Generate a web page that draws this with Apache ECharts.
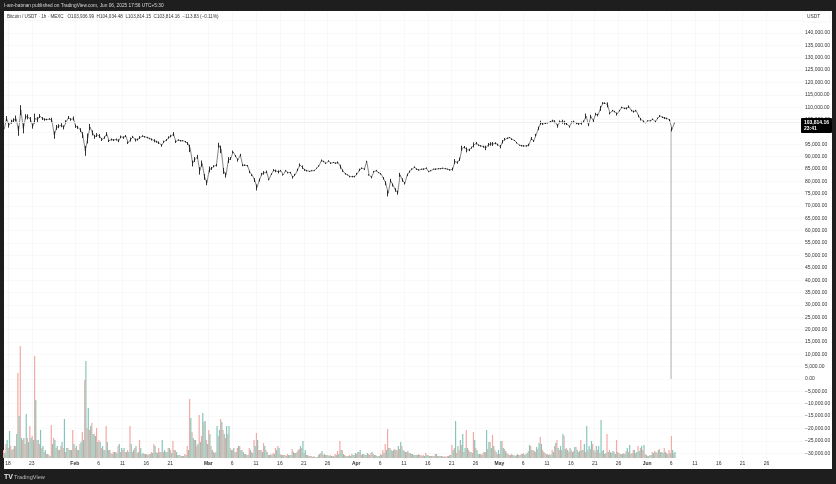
<!DOCTYPE html>
<html>
<head>
<meta charset="utf-8">
<style>html,body{margin:0;padding:0;background:#1e1e1e}#chart{width:836px;height:484px}</style>
<script src="https://cdn.jsdelivr.net/npm/echarts@6/dist/echarts.min.js"></script>
</head>
<body>
<div id="chart"></div>
<script>
// half-day samples, first one is about Jan 17 05:00
const firstDay = -0.8;
const stepDays = 0.5;

// price in thousand USDT
const priceK = [
  101,105.4,102.7,104.1,104.7,105.4,100.4,108.8,101.4,106.1,106.1,105,102.3,105.4,105,106.4,105.4,105,105,105.2,
  104.7,98.7,101.8,102.3,102.7,101.8,104.1,105.8,105,105.4,102.3,101.8,100.7,98.7,92.3,97.3,102,99.6,98,98.7,
  98.3,96.9,97.7,99.1,96.4,96.9,96.7,96.9,96.4,98,97.7,98.3,95.6,96.9,98,96.7,96.9,97.7,98.3,98,
  97.7,97.3,96.9,96.4,96,95.6,94.5,96,96.7,97.7,98.3,99.1,96,96.7,96.4,96.4,96,95.3,93.3,87.2,
  88.8,89.9,84.2,87.2,81.8,79.4,84.8,85.2,86.1,86.5,94.6,92.9,84.2,82.5,88.6,89.2,91.9,90.2,88.6,90.6,
  86.5,86.5,86.3,83.8,82.5,80.5,77.5,80.5,82.9,83.4,83.8,80.7,82.9,84.5,84.2,83.8,
  84.3,82.6,84.3,83.5,83.5,81.6,82.6,84.6,86.6,85.7,84.6,84.3,84,84.3,84.3,85.3,86.2,88.4,88,87.3,
  88.2,87.3,87.6,87.3,87.6,85.9,84.3,83,82.6,81.9,81.9,81.9,83,84.6,85.3,84.9,88,82.6,81.6,83.9,
  84.3,83.5,83,81.2,79.2,75.1,80.3,78.5,76.5,75.4,82.6,80.5,79.2,82.6,83.9,84.9,85.7,84.9,84.6,84.9,
  84.9,85.3,83.9,84.3,84.9,84.9,85.1,85.1,85.3,85.1,84.9,84.6,84.9,88,87.6,88.9,93.4,93.8,92.7,92.7,
  93.6,94.7,95.4,94.6,94.3,94,93.5,94.8,95.1,95.1,95.4,94.8,94,96,97,97.4,97.7,97,96.5,95.6,
  94.6,94.4,94.3,94.3,94.7,97.3,96.3,98.7,101.4,103.7,103.2,103.5,103.7,104.1,104.5,104.1,102.4,
  104.1,104.1,103.7,103.2,102.1,103.9,104,103.5,103.2,103.5,104.1,106.4,102.8,106.2,104.5,107.2,106.8,109.5,111.6,111.6,
  110.9,107.5,108.6,108.2,107.2,108.6,109.9,109.5,109.5,110.2,108.6,108.2,108.6,106.4,105.1,104.1,103.7,104.5,104.5,105.1,
  104.1,105.5,106.4,105.9,105.6,105.4,104.8,101,103.7
];

// half of the high-low range around each sample, thousand USDT
const priceRangeK = [
  .8,1,1,.8,.8,1.2,2,2,2,1,1,1,1,2,1,.8,.6,.5,.3,.3,
  1,1.5,1,.8,.8,.8,.6,.6,.5,.8,.7,.6,.8,1.2,2,2,1.2,1,.8,.8,
  .8,.6,.5,.8,.5,.4,.4,.4,.6,.5,.5,.4,.5,.8,.4,.6,.4,.6,.3,.3,
  .3,.3,.4,.6,.4,.5,.5,.4,.4,.5,.5,.8,.5,.3,.3,.2,.3,.6,1.5,1.2,
  1,.8,1.5,1.2,1.2,1,1.2,.6,.4,.5,1,1.5,1.2,1,1.2,.6,.5,.4,.6,.5,
  .4,.3,.3,.5,.4,.8,1.2,.6,.5,.7,.5,.3,.3,.4,.5,.6,
  .3,.3,.3,.3,.3,.5,.4,.5,.6,.7,.4,.3,.2,.2,.2,.2,.3,.4,.3,.3,
  .3,.3,.2,.3,.4,.8,.5,.3,.2,.3,.3,.3,.4,.5,.3,.3,.3,.3,.4,.3,
  .3,.2,.3,.5,.8,1.2,.7,.6,.7,.8,.8,.7,.5,.5,.4,.3,.3,.3,.3,.2,
  .3,.3,.2,.2,.2,.3,.2,.2,.2,.2,.2,.3,.6,1,.5,.7,1,.5,1,.5,
  .4,1,.5,.3,.3,.4,.9,.7,.7,.8,.4,.4,.7,.7,.5,.3,.2,.3,.2,.3,
  .2,.3,.3,.3,.5,.6,.4,.5,.7,.8,.4,.3,.3,.3,.4,.6,.7,
  .5,.8,.8,.4,.4,.4,.5,.4,.4,.6,.5,1,.5,.7,.5,.5,.5,1,.4,.3,
  1,.4,.3,.3,.6,.3,.3,.3,.4,.5,.3,.4,.3,.5,.5,.5,.2,.2,.2,.3,.4,.3,.4,.3,.4,.3,.4,.8,.3
];

// volume, relative height (the scale is hidden in the reference)
const volumeDown = [
  8,14,10,12,9,12,85,112,18,14,20,32,22,102,18,14,10,6,4,3,
  33,20,10,8,12,10,6,10,8,28,10,8,14,26,78,30,28,35,24,30,
  18,10,8,32,8,5,6,6,12,6,8,6,8,32,6,10,5,18,4,4,
  4,4,6,14,6,10,6,6,6,10,8,17,8,3,3,2,4,12,59,26,
  18,12,43,22,36,18,28,12,6,6,22,39,28,20,24,10,8,6,10,12,
  8,4,3,10,6,18,25,8,8,15,8,3,4,5,10,12,
  4,3,3,4,3,9,5,6,9,10,5,3,2,2,2,1,3,5,3,3,
  3,3,2,4,7,17,8,3,2,3,4,3,4,6,3,4,3,4,5,4,
  3,2,4,8,14,29,10,7,9,8,9,12,7,6,5,4,3,3,4,3,
  3,5,3,2,2,4,2,2,2,2,2,3,13,10,5,8,13,6,28,8,
  6,26,10,4,4,5,6,9,16,23,8,4,4,17,9,5,3,4,3,3,
  3,4,5,4,7,12,8,6,9,21,8,5,4,4,8,12,18,
  8,8,22,10,6,8,7,11,6,18,8,6,8,9,14,6,8,5,7,4,
  24,8,5,6,18,5,4,5,7,6,4,8,5,12,10,8,4,2,3,6,7,5,9,6,10,5,8,22,5
];
const volumeUp = [
  5,18,27,8,12,24,42,20,20,44,16,20,18,58,18,28,12,8,4,2,
  14,18,12,8,16,39,10,8,8,14,12,8,16,18,97,50,32,24,22,16,
  16,12,8,16,8,4,6,5,14,10,10,6,6,14,8,12,6,10,5,4,
  3,4,5,12,5,6,18,8,6,10,5,8,6,3,2,2,3,8,40,20,
  18,14,16,45,37,14,24,8,5,32,28,36,24,32,32,8,10,6,12,8,
  6,4,3,8,5,12,18,8,6,12,6,3,3,4,8,10,
  3,3,2,3,3,6,5,8,12,17,8,3,2,1,1,1,4,7,4,3,
  2,2,2,3,4,8,4,2,2,2,3,5,6,8,4,3,5,3,6,3,
  2,2,3,5,8,10,8,8,8,12,16,8,6,7,5,4,3,3,3,2,
  2,3,2,2,2,4,2,2,1,1,2,3,8,37,12,18,24,10,10,6,
  5,18,8,4,3,6,28,16,10,12,6,8,17,10,7,4,3,3,2,4,
  3,4,3,5,13,8,7,11,15,14,6,4,3,3,6,15,10,
  12,24,9,8,10,6,11,8,7,8,14,32,12,17,8,12,12,38,8,5,
  6,6,7,4,6,4,4,4,10,13,5,8,6,7,12,13,3,2,3,5,6,8,6,5,6,4,5,8,6
];

// the long Jun 6 wick
const wickDay = 139;
const wickHigh = 101000;
const wickLow = 0;
const lastPrice = 103814.16;

// days since Jan 18
const tickDays = [0,5,14,19,24,29,34,42,47,52,57,62,67,73,78,83,88,93,98,103,108,113,118,123,128,134,139,144,149,154,159];
const tickLabels = ['18','23','Feb','6','11','16','21','Mar','6','11','16','21','26','Apr','6','11','16','21','26','May','6','11','16','21','26','Jun','6','11','16','21','26'];

const headerText = 'I-am-batman published on TradingView.com, Jun 06, 2025 17:56 UTC+5:30';
const legendText = 'Bitcoin / USDT · 1h · MEXC   O103,936.99  H104,034.48  L103,814.15  C103,814.16  −113.83 (−0.11%)';

const FONT = '"Liberation Sans", Arial, sans-serif';
const xMin = -0.84, xMax = 166.66;
const bySample = (arr, k) => arr.map((v, i) => [firstDay + i * stepDays, v * k]);
const rangeBars = priceK.map((p, i) => {
  const c = p * 1000, r = priceRangeK[i] * 1000;
  return [firstDay + i * stepDays, c, c, c - r, c + r];
});

const myChart = echarts.init(document.getElementById('chart'), null, {renderer: 'canvas'});

const fmtPrice = (v) => {
  const s = Math.abs(v).toLocaleString('en-US', {minimumFractionDigits: 2, maximumFractionDigits: 2});
  return (v < 0 ? '−' : '') + s;
};

const option = {
  animation: false,
  backgroundColor: '#1e1e1e',
  graphic: [
    {type: 'rect', z: -10, silent: true, shape: {x: 4, y: 11, width: 828, height: 458}, style: {fill: '#fff'}},
    {type: 'rect', z: 10, silent: true, shape: {x: 0, y: 0, width: 836, height: 11}, style: {fill: '#1e1e1e'}},
    {type: 'text', z: 11, x: 4, y: 3, style: {text: headerText, fill: '#d8d8d8', font: '4.77px ' + FONT}},
    {type: 'text', z: 11, x: 7, y: 14.5, style: {text: legendText, fill: '#333', font: '4.6px ' + FONT}},
    {type: 'rect', z: 9, silent: true, shape: {x: 803, y: 12, width: 27, height: 10}, style: {fill: '#fff', stroke: '#eee', lineWidth: 0.5}},
    {type: 'text', z: 11, x: 807, y: 14.5, style: {text: 'USDT', fill: '#333', font: '4.8px ' + FONT}},
    {type: 'text', z: 11, x: 4, y: 474, style: {text: 'TV', fill: '#e8e8e8', font: 'bold 7px ' + FONT}},
    {type: 'text', z: 11, x: 14, y: 474.5, style: {text: 'TradingView', fill: '#bbb', font: '5.6px ' + FONT}}
  ],
  grid: [
    // price pane runs past the panel so the 5,000 ticks land on the reference rows
    {left: 4, right: 33, top: 8.3, height: 457.2},
    {left: 4, right: 33, top: 338, height: 120}
  ],
  xAxis: [
    {
      type: 'value', gridIndex: 0, min: xMin, max: xMax,
      axisLine: {show: false}, axisTick: {show: false, customValues: tickDays},
      axisLabel: {show: false, customValues: tickDays},
      splitLine: {show: true, lineStyle: {color: '#f6f6f6', width: 0.7}}
    },
    {
      type: 'value', gridIndex: 1, min: xMin, max: xMax,
      axisLine: {show: false}, axisTick: {show: false, customValues: tickDays},
      splitLine: {show: false},
      axisLabel: {
        show: true, customValues: tickDays, margin: 3.5, hideOverlap: false,
        fontFamily: FONT, fontSize: 5, color: '#333',
        formatter: (v) => {
          const t = tickLabels[tickDays.indexOf(v)] || '';
          return /[a-z]/i.test(t) ? '{m|' + t + '}' : t;
        },
        rich: {m: {fontFamily: FONT, fontSize: 5, fontWeight: 'bold', color: '#333'}}
      }
    }
  ],
  yAxis: [
    {
      type: 'value', gridIndex: 0, position: 'right', min: -35000, max: 150000, interval: 5000,
      axisLine: {show: false}, axisTick: {show: false},
      splitLine: {show: true, showMinLine: false, showMaxLine: false, lineStyle: {color: '#f6f6f6', width: 0.7}},
      axisLabel: {
        showMinLabel: false, showMaxLabel: false, inside: false, margin: 2,
        fontFamily: FONT, fontSize: 5, color: '#333', align: 'left', formatter: fmtPrice
      }
    },
    {type: 'value', gridIndex: 1, min: 0, max: 120, show: false}
  ],
  series: [
    {
      name: 'volume down', type: 'bar', xAxisIndex: 1, yAxisIndex: 1, barWidth: 1.2, barGap: 0,
      itemStyle: {color: '#f3a9a4'},
      data: bySample(volumeDown, 1)
    },
    {
      name: 'volume up', type: 'bar', xAxisIndex: 1, yAxisIndex: 1, barWidth: 1.2, barGap: 0,
      itemStyle: {color: '#86c6ba'},
      data: bySample(volumeUp, 1)
    },
    {
      name: 'wick', type: 'line', xAxisIndex: 0, yAxisIndex: 0, symbol: 'none',
      lineStyle: {color: '#a8a8a8', width: 0.9},
      data: [[wickDay, wickHigh], [wickDay, wickLow]]
    },
    {
      name: 'range', type: 'candlestick', xAxisIndex: 0, yAxisIndex: 0, z: 4, barWidth: 0.9,
      itemStyle: {color: '#1a1a1a', color0: '#1a1a1a', borderColor: '#1a1a1a', borderColor0: '#1a1a1a', borderWidth: 0.9},
      data: rangeBars
    },
    {
      name: 'BTCUSDT', type: 'line', xAxisIndex: 0, yAxisIndex: 0, symbol: 'none', z: 4,
      lineStyle: {color: '#333', width: 0.6},
      data: bySample(priceK, 1000),
      markLine: {
        silent: true, symbol: 'none', animation: false,
        lineStyle: {color: '#ececec', width: 0.8, type: 'solid'},
        label: {
          show: true, position: 'end', distance: 0, offset: [-2, 3], formatter: '103,814.16\n23:41',
          backgroundColor: '#000', color: '#fff', fontFamily: FONT, fontSize: 5, fontWeight: 'bold', lineHeight: 6.5,
          padding: [1, 3, 1, 3], borderRadius: 1
        },
        data: [{yAxis: lastPrice}]
      }
    }
  ]
};

myChart.setOption(option);
</script>
</body>
</html>
